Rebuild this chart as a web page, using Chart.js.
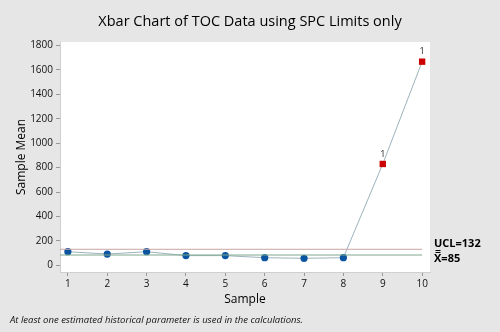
<!DOCTYPE html>
<html>
<head>
<meta charset="utf-8">
<script src="https://cdn.jsdelivr.net/npm/chart.js@4"></script>
<style>
  html, body { margin:0; padding:0; background:#e6e6e6; }
  #wrap { width:500px; height:332px; }
</style>
</head>
<body>
<div id="wrap"><canvas id="xbar" width="500" height="332"></canvas></div>
<script>
// Xbar chart of TOC data, historical SPC limits
const samples = [1, 2, 3, 4, 5, 6, 7, 8, 9, 10];
const means = [112, 93, 112, 80, 80, 63, 58, 63, 830, 1667];
const ucl = 132;
const center = 85;
const yTicks = [0, 200, 400, 600, 800, 1000, 1200, 1400, 1600, 1800];

// points above UCL get flagged with test 1
const isOut = means.map(v => v > ucl);
const FONT = "'Open Sans', 'Noto Sans', sans-serif";

const bgPlugin = {
  id: 'plotBg',
  beforeDraw(chart){
    const {ctx, chartArea:a} = chart;
    ctx.save();
    ctx.fillStyle = '#ffffff';
    ctx.fillRect(a.left, a.top, a.right - a.left, a.bottom - a.top);
    ctx.restore();
  }
};

const textPlugin = {
  id: 'texts',
  afterDraw(chart){
    const {ctx, chartArea:a, scales} = chart;
    ctx.save();
    ctx.fillStyle = '#000';
    ctx.textAlign = 'center';
    ctx.textBaseline = 'middle';
    ctx.font = '14.5px ' + FONT;
    ctx.fillText('Xbar Chart of TOC Data using SPC Limits only', 250, 22);

    // limit labels at the right
    ctx.textAlign = 'left';
    ctx.font = 'bold 11px ' + FONT;
    const yU = scales.y.getPixelForValue(ucl);
    const yC = scales.y.getPixelForValue(center);
    ctx.fillText('UCL=' + ucl, a.right + 4, yU - 5);
    ctx.fillText('X=' + center, a.right + 4, yC + 4);
    // double bar over the X
    ctx.strokeStyle = '#000';
    ctx.lineWidth = 1;
    const xb = a.right + 5.5;
    [yC - 4.5, yC - 2.5].forEach(yy => {
      ctx.beginPath(); ctx.moveTo(xb, yy); ctx.lineTo(xb + 5, yy); ctx.stroke();
    });

    // test flags
    ctx.textAlign = 'center';
    ctx.font = '9px ' + FONT;
    ctx.fillStyle = '#222';
    means.forEach((v, i) => {
      if(!isOut[i]) return;
      ctx.fillText('1', scales.x.getPixelForValue(samples[i]), scales.y.getPixelForValue(v) - 10);
    });

    // footnote
    ctx.textAlign = 'left';
    ctx.font = 'italic 9.5px ' + FONT;
    ctx.fillStyle = '#111';
    ctx.fillText('At least one estimated historical parameter is used in the calculations.', 10, 320);
    ctx.restore();
  }
};

const xMin = 0.8, xMax = 10.2;
const ctx = document.getElementById('xbar').getContext('2d');
new Chart(ctx, {
  type: 'scatter',
  data: {
    datasets: [
      {
        label: 'UCL',
        data: [{x:xMin, y:ucl}, {x:samples[samples.length-1], y:ucl}],
        showLine: true, borderColor: '#c9a5a5', borderWidth: 1, pointRadius: 0
      },
      {
        label: 'CL',
        data: [{x:xMin, y:center}, {x:samples[samples.length-1], y:center}],
        showLine: true, borderColor: '#7fa88c', borderWidth: 1, pointRadius: 0
      },
      {
        label: 'Mean',
        data: samples.map((s, i) => ({x:s, y:means[i]})),
        showLine: true,
        borderColor: '#9db3bd',
        borderWidth: 1,
        pointStyle: means.map((v, i) => isOut[i] ? 'rect' : 'circle'),
        pointRadius: means.map((v, i) => isOut[i] ? 4.5 : 3.6),
        pointBackgroundColor: means.map((v, i) => isOut[i] ? '#cc0000' : '#0b55a0'),
        pointBorderColor: means.map((v, i) => isOut[i] ? '#cc0000' : '#0b55a0'),
        pointBorderWidth: 0
      }
    ]
  },
  options: {
    animation: false,
    responsive: false,
    layout: { padding: { top: 42, right: 70, bottom: 25, left: 14 } },
    plugins: { legend: { display: false }, tooltip: { enabled: false } },
    scales: {
      x: {
        type: 'linear', min: xMin, max: xMax,
        afterBuildTicks: s => { s.ticks = samples.map(v => ({value:v})); },
        afterFit: s => { s.height = 35; },
        grid: { display: true, drawOnChartArea: false, drawTicks: true, tickLength: 4, color: '#999' },
        border: { color: '#cfcfcf' },
        ticks: { color: '#111', font: { family: FONT, size: 10 }, padding: 2, maxRotation: 0, callback: v => String(v) },
        title: { display: true, text: 'Sample', color: '#000', font: { family: FONT, size: 12 }, padding: {top: 2, bottom: 0} }
      },
      y: {
        min: -54, max: 1828,
        afterBuildTicks: s => { s.ticks = yTicks.map(v => ({value:v})); },
        afterFit: s => { s.width = 46; },
        grid: { display: true, drawOnChartArea: false, drawTicks: true, tickLength: 4, color: '#999' },
        border: { color: '#cfcfcf' },
        ticks: { color: '#111', font: { family: FONT, size: 10 }, padding: 3, callback: v => String(v) },
        title: { display: true, text: 'Sample Mean', color: '#000', font: { family: FONT, size: 12 }, padding: 0 }
      }
    }
  },
  plugins: [bgPlugin, textPlugin]
});
</script>
</body>
</html>
